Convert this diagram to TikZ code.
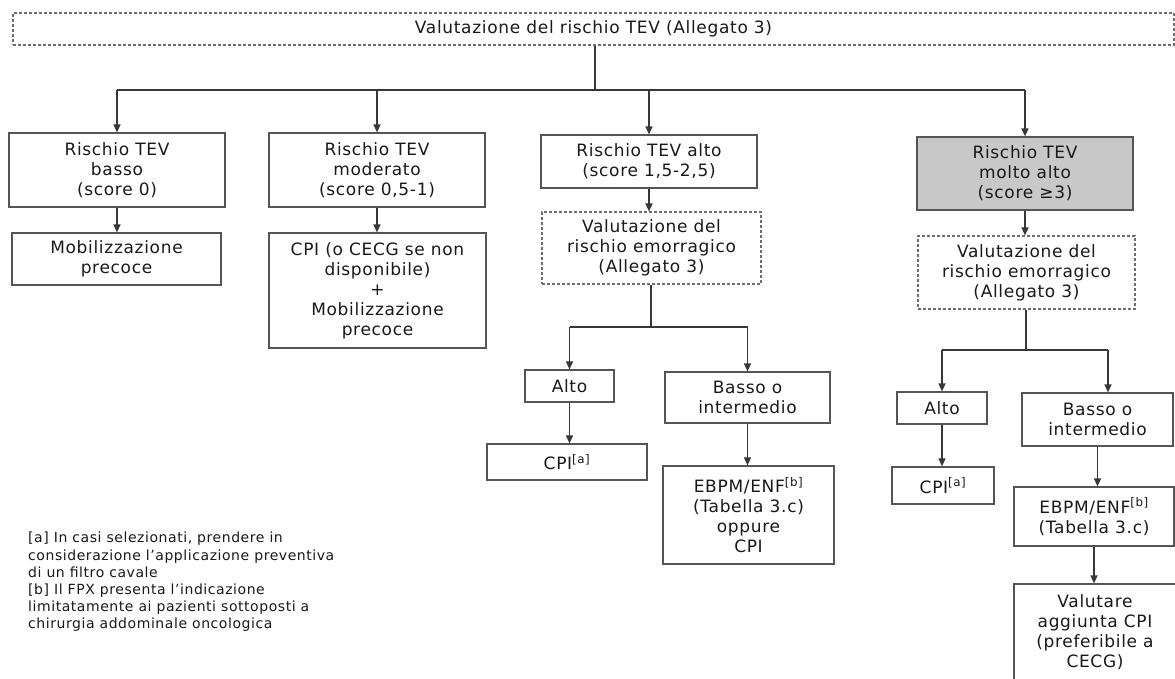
\documentclass[tikz,border=0pt]{standalone}
\usepackage{fontspec}
\setmainfont{DejaVu Sans}[LetterSpace=4]
\usetikzlibrary{arrows.meta}
\definecolor{linegray}{RGB}{55,55,55}
\definecolor{boxgray}{RGB}{85,85,85}
\definecolor{dashgray}{RGB}{110,110,110}
\definecolor{fillgray}{RGB}{200,200,200}
\definecolor{textdark}{RGB}{25,25,25}

\begin{document}
\begin{tikzpicture}[x=1pt, y=-1pt,
	every node/.style={font=\fontsize{17}{20}\selectfont, text=textdark, align=center, inner sep=0pt},
	box/.style 2 args={draw=boxgray, line width=1.2pt, minimum width=#1, minimum height=#2},
	dbox/.style 2 args={draw=dashgray, line width=1.1pt, dash pattern=on 3pt off 2pt, minimum width=#1, minimum height=#2},
	conn/.style={draw=linegray, line width=1.4pt},
	arr/.style={conn, -{Triangle[length=8pt,width=7pt]}}]
	\useasboundingbox (0,0) rectangle (1175,678);
	\clip (0,0) rectangle (1175,678);
	\node[dbox={1161pt}{32pt}] (top) at (593.5,29) {Valutazione del rischio TEV (Allegato 3)};
	\node[box={216pt}{74pt}] (r1) at (117,170) {Rischio TEV\\basso\\(score 0)};
	\node[box={216pt}{74pt}] (r2) at (377,170) {Rischio TEV\\moderato\\(score 0,5-1)};
	\node[box={216pt}{53pt}] (r3) at (649,161.5) {Rischio TEV alto\\(score 1,5-2,5)};
	\node[box={216pt}{73pt}, fill=fillgray] (r4) at (1025,173.5) {Rischio TEV\\molto alto\\(score ≥3)};
	\node[box={209pt}{52pt}] (m1) at (116.5,259) {Mobilizzazione\\precoce};
	\node[box={217pt}{115pt}] (m2) at (377.5,290.5) {CPI (o CECG se non\\disponibile)\\+\\Mobilizzazione\\precoce};
	\node[dbox={219pt}{72pt}] (e3) at (651.5,248) {Valutazione del\\rischio emorragico\\(Allegato 3)};
	\node[dbox={217pt}{73pt}] (e4) at (1026.5,272.5) {Valutazione del\\rischio emorragico\\(Allegato 3)};
	\node[box={89pt}{32pt}] (a3) at (569.5,386) {Alto};
	\node[box={165pt}{51pt}] (b3) at (747.5,397.5) {Basso o\\intermedio};
	\node[box={160pt}{36pt}] (c3) at (567,462) {CPI\textsuperscript{[a]}};
	\node[box={171pt}{98pt}] (p3) at (748.5,515) {EBPM/ENF\textsuperscript{[b]}\\(Tabella 3.c)\\oppure\\CPI};
	\node[box={90pt}{32pt}] (a4) at (942,408) {Alto};
	\node[box={151pt}{53pt}] (b4) at (1097.5,419.5) {Basso o\\intermedio};
	\node[box={102pt}{37pt}] (c4) at (943,485.5) {CPI\textsuperscript{[a]}};
	\node[box={160pt}{59pt}] (p4) at (1094,516.5) {EBPM/ENF\textsuperscript{[b]}\\(Tabella 3.c)};
	\node[box={162pt}{96pt}] (v4) at (1095,632) {Valutare\\aggiunta CPI\\(preferibile a\\CECG)};
	\node[anchor=north west, align=left, font=\fontsize{14}{17.2}\selectfont] (note) at (28,532) {[a] In casi selezionati, prendere in\\considerazione l’applicazione preventiva\\di un filtro cavale\\{[b]} Il FPX presenta l’indicazione\\limitatamente ai pazienti sottoposti a\\chirurgia addominale oncologica};
	\coordinate (bus1) at (595,90);
	\coordinate (bus3) at (651,327);
	\coordinate (bus4) at (1026,350);
	\coordinate (k4) at (1108,350);
	\draw[conn] (top.south -| bus1) -- (bus1);
	\draw[conn] (r1.north |- bus1) -- (r4.north |- bus1);
	\foreach \n in {r1,r2,r3,r4} {\draw[arr] (\n.north |- bus1) -- (\n.north);}
	\draw[arr] (r1.south) -- (r1.south |- m1.north);
	\draw[arr] (r2.south) -- (r2.south |- m2.north);
	\draw[arr] (r3.south) -- (r3.south |- e3.north);
	\draw[arr] (r4.south) -- (r4.south |- e4.north);
	\draw[conn] (e3.south -| bus3) -- (bus3);
	\draw[conn] (a3.north |- bus3) -- (b3.north |- bus3);
	\draw[arr] (a3.north |- bus3) -- (a3.north);
	\draw[arr] (b3.north |- bus3) -- (b3.north);
	\draw[arr] (a3.south) -- (a3.south |- c3.north);
	\draw[arr] (b3.south) -- (b3.south |- p3.north);
	\draw[conn] (e4.south -| bus4) -- (bus4);
	\draw[conn] (a4.north |- bus4) -- (k4);
	\draw[arr] (a4.north |- bus4) -- (a4.north);
	\draw[arr] (k4) -- (k4 |- b4.north);
	\draw[arr] (a4.south) -- (a4.south |- c4.north);
	\draw[arr] (b4.south) -- (b4.south |- p4.north);
	\draw[arr] (p4.south) -- (p4.south |- v4.north);
\end{tikzpicture}
\end{document}
